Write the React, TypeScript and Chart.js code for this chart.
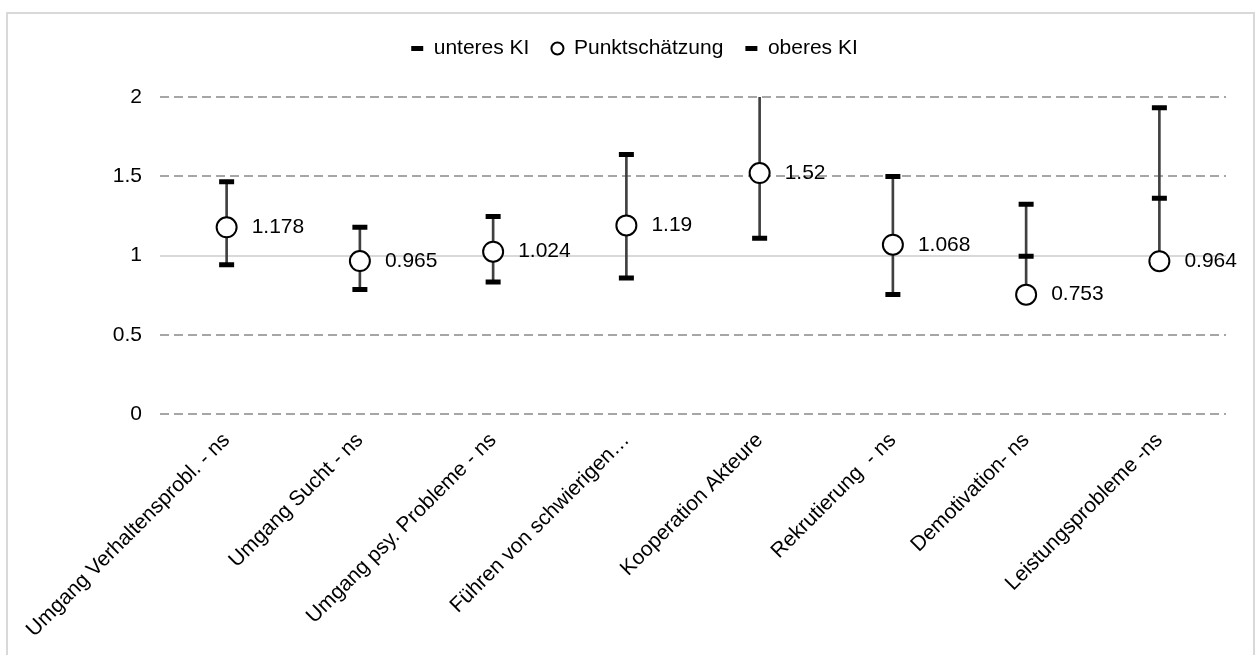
import React, { useEffect, useRef } from 'react';
import { Chart, registerables } from 'chart.js';

Chart.register(...registerables);

const FONT = "'Liberation Sans', Arial, sans-serif";
const FS = 21;

const categories = [
  'Umgang Verhaltensprobl. - ns',
  'Umgang Sucht - ns',
  'Umgang psy. Probleme - ns',
  'Führen von schwierigen…',
  'Kooperation Akteure',
  'Rekrutierung  - ns',
  'Demotivation- ns',
  'Leistungsprobleme -ns',
];

const lowerCI = [0.942, 0.785, 0.833, 0.858, 1.109, 0.754, 0.996, 1.361];
const pointEst = [1.178, 0.965, 1.024, 1.19, 1.52, 1.068, 0.753, 0.964];
const upperCI = [1.465, 1.178, 1.246, 1.637, 2.1, 1.499, 1.323, 1.932];

const yTicks = [0, 0.5, 1, 1.5, 2];

const seriesNames = ['unteres KI', 'Punktschätzung', 'oberes KI'];

export default function App() {
  const ref = useRef<HTMLCanvasElement>(null);

  useEffect(() => {
    const canvas = ref.current!;
    const ranges = categories.map((_, i) => [
      Math.min(lowerCI[i], pointEst[i], upperCI[i]),
      Math.max(lowerCI[i], pointEst[i], upperCI[i]),
    ]);

    const legendSpacer = {
      id: 'legendSpacer',
      afterInit(chart: any) {
        const lg = chart.legend;
        if (!lg) return;
        const orig = lg.fit;
        lg.fit = function () {
          orig.call(this);
          this.height = 81;
        };
      },
    };

    const pointLabels = {
      id: 'pointLabels',
      afterDatasetsDraw(chart: any) {
        const meta = chart.getDatasetMeta(1);
        const ctx = chart.ctx;
        ctx.save();
        ctx.font = `${FS}px ${FONT}`;
        ctx.fillStyle = '#000';
        ctx.textAlign = 'left';
        ctx.textBaseline = 'middle';
        meta.data.forEach((el: any, i: number) => {
          ctx.fillText(String(pointEst[i]), el.x + 25, el.y);
        });
        ctx.restore();
      },
    };

    const dashPoint = {
      type: 'line' as const,
      showLine: false,
      pointStyle: 'line',
      pointRadius: 7.5,
      pointHoverRadius: 7.5,
      pointBorderWidth: 5,
      pointBorderColor: '#000',
      pointBackgroundColor: '#000',
      borderColor: '#000',
      backgroundColor: '#000',
      order: 0,
    };

    const chart = new Chart(canvas, {
      type: 'line',
      data: {
        labels: categories,
        datasets: [
          { ...dashPoint, label: seriesNames[0], data: lowerCI } as any,
          {
            type: 'line',
            label: seriesNames[1],
            data: pointEst,
            showLine: false,
            pointStyle: 'circle',
            pointRadius: 10,
            pointHoverRadius: 10,
            pointBorderWidth: 2,
            pointBorderColor: '#000',
            pointBackgroundColor: '#fff',
            borderColor: '#000',
            backgroundColor: '#fff',
            order: 0,
          } as any,
          { ...dashPoint, label: seriesNames[2], data: upperCI } as any,
          {
            type: 'bar',
            label: 'range',
            data: ranges,
            backgroundColor: '#404040',
            borderWidth: 0,
            barThickness: 2,
            order: 10,
          } as any,
        ],
      },
      options: {
        responsive: false,
        animation: false,
        events: [],
        layout: { padding: { top: 16, left: 43, right: 29, bottom: 0 } },
        plugins: {
          tooltip: { enabled: false },
          legend: {
            display: true,
            position: 'top',
            labels: {
              usePointStyle: true,
              boxHeight: 8.5,
              pointStyleWidth: 12,
              padding: 22,
              color: '#000',
              font: { size: FS, family: FONT },
              filter: (item: any) => item.datasetIndex < 3,
            },
          },
        },
        scales: {
          x: {
            type: 'category',
            offset: true,
            grid: { display: false, drawTicks: false },
            border: { display: false },
            ticks: {
              autoSkip: false,
              maxRotation: 45,
              minRotation: 45,
              padding: 14,
              color: '#000',
              font: { size: FS, family: FONT },
            },
            afterFit: (s: any) => {
              s.height = 241;
            },
          },
          y: {
            type: 'linear',
            min: 0,
            max: 2,
            afterBuildTicks: (s: any) => {
              s.ticks = yTicks.map((v) => ({ value: v }));
            },
            ticks: {
              padding: 18,
              color: '#000',
              font: { size: FS, family: FONT },
              callback: (v: any) => String(v),
            },
            grid: {
              drawTicks: false,
              lineWidth: 2,
              color: (ctx: any) => (ctx.tick && ctx.tick.value === 1 ? '#d9d9d9' : '#a6a6a6'),
            },
            border: {
              display: false,
              dash: (ctx: any) => (ctx.tick && ctx.tick.value === 1 ? [] : [9, 5]),
            },
            afterFit: (s: any) => {
              s.width = 117;
            },
          },
        },
      } as any,
      plugins: [legendSpacer, pointLabels],
    });

    return () => chart.destroy();
  }, []);

  return (
    <div style={{ position: 'absolute', left: 0, top: 0, width: 1255, height: 655, overflow: 'hidden', background: '#fff' }}>
      <div
        style={{
          position: 'absolute',
          left: 6,
          top: 12,
          width: 1249,
          height: 643,
          boxSizing: 'border-box',
          border: '2px solid #d9d9d9',
          borderBottom: 'none',
        }}
      />
      <canvas
        ref={ref}
        width={1255}
        height={655}
        style={{ position: 'absolute', left: 0, top: 0, width: 1255, height: 655 }}
      />
    </div>
  );
}
